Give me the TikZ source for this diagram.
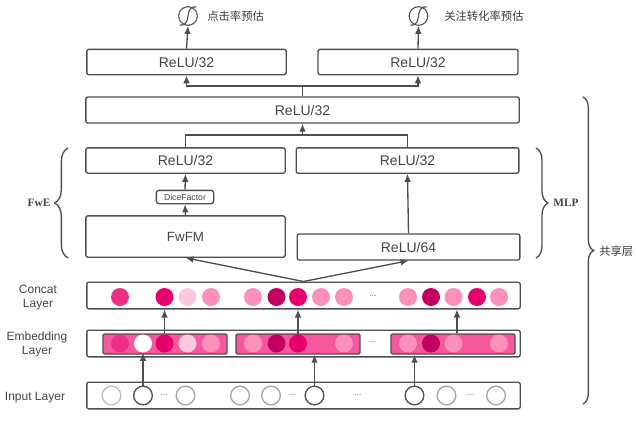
\documentclass[tikz,border=0pt]{standalone}
\usepackage{fontspec}
\setmainfont{Liberation Sans}
\newfontfamily\cjk{Noto Sans CJK SC}
\newfontfamily\serifbf{Liberation Serif}
\usetikzlibrary{decorations.pathreplacing,arrows.meta}
\definecolor{linegray}{HTML}{4F4F4F}
\definecolor{textgray}{HTML}{444444}
\definecolor{bandpink}{HTML}{F6589E}
\definecolor{pinka}{HTML}{EE2F88}
\definecolor{pinkb}{HTML}{E6006E}
\definecolor{pinkc}{HTML}{FBC8DD}
\definecolor{pinkd}{HTML}{FB90BB}
\definecolor{pinke}{HTML}{C20060}
\tikzset{
  layerbox/.style={draw=linegray,line width=1pt,rounded corners=1.5pt,text=textgray,inner sep=0pt,font=\fontsize{10.5}{12}\selectfont},
  bandbox/.style={draw=linegray,line width=1pt,rounded corners=1pt,fill=bandpink,inner sep=0pt,minimum width=93pt,minimum height=15pt},
  dot/.style={circle,inner sep=0pt,minimum size=13.5pt,fill=#1},
  ring/.style={circle,draw=#1,line width=1pt,inner sep=0pt,minimum size=14pt},
  sigma/.style={circle,draw=linegray,line width=.8pt,inner sep=0pt,minimum size=14pt},
  flow/.style={draw=linegray,line width=1pt,-{Latex[length=6pt,width=5pt]}},
  plain/.style={draw=linegray,line width=1pt},
  brace/.style={draw=linegray,line width=1pt,decorate,decoration={brace,amplitude=#1}},
  sidetext/.style={text=textgray,inner sep=0pt,align=center,font=\fontsize{9}{10}\selectfont},
  dotstext/.style={text=textgray,inner sep=0pt,font=\fontsize{6}{6}\selectfont},
}
\newcommand{\sigcurve}[1]{\draw[draw=linegray,line width=.8pt,shift={(#1.center)}] (-8,9) .. controls (-1,10) and (-.5,3) .. (0,0) .. controls (.5,-3) and (1,-10) .. (8,-9);}
\begin{document}
\begin{tikzpicture}[x=0.75pt,y=0.75pt,yscale=-1,xscale=1]
\useasboundingbox (0,0) rectangle (636,422);

% Output circles
\node[sigma] (sigl) at (188,16) {};
\node[sigma] (sigr) at (418.5,16) {};
\sigcurve{sigl}
\sigcurve{sigr}
\node[anchor=west,inner sep=0pt,text=textgray!85!black,font=\cjk\fontsize{8.5}{10}\selectfont] (ctr) at (207,16) {点击率预估};
\node[anchor=west,inner sep=0pt,text=textgray!85!black,font=\cjk\fontsize{8.5}{10}\selectfont] (cvr) at (444,16) {关注转化率预估};

% Boxes
\node[layerbox,minimum width=149.5pt,minimum height=19pt] (relutl) at (186.5,62) {ReLU/32};
\node[layerbox,minimum width=150pt,minimum height=19pt] (relutr) at (418,62) {ReLU/32};
\node[layerbox,minimum width=325pt,minimum height=19.5pt] (relubig) at (302.5,110) {ReLU/32};
\node[layerbox,minimum width=149.5pt,minimum height=19pt] (relul) at (185.5,160.5) {ReLU/32};
\node[layerbox,minimum width=167pt,minimum height=19pt] (relur) at (407.5,160.5) {ReLU/32};
\node[layerbox,rounded corners=2pt,minimum width=43pt,minimum height=10pt,font=\fontsize{6.5}{7}\selectfont] (dice) at (185,197) {DiceFactor};
\node[layerbox,minimum width=149.5pt,minimum height=31pt,font=\fontsize{10}{12}\selectfont] (fwfm) at (185.5,236.5) {FwFM};
\node[layerbox,minimum width=167pt,minimum height=19.5pt] (relufour) at (408.5,247) {ReLU/64};
\node[layerbox,minimum width=325pt,minimum height=20pt] (concat) at (303.5,295.5) {};
\node[layerbox,minimum width=325pt,minimum height=20pt] (embed) at (303.5,343.5) {};
\node[layerbox,minimum width=325pt,minimum height=20pt] (input) at (303.5,395.5) {};

% Embedding bands
\node[bandbox] (banda) at (165,344) {};
\node[bandbox] (bandb) at (298,344) {};
\node[bandbox] (bandc) at (453,344) {};

% Concat and embedding dots
\foreach \name/\xx/\col in {a/120/pinka,b/164.5/pinkb,c/187.5/pinkc,d/211/pinkd,e/253/pinkd,f/276.5/pinke,g/298/pinkb,i/344/pinkd,j/408/pinkd,k/431/pinke,l/453.5/pinkd,n/499/pinkd}{
  \node[dot=\col] (co\name) at (\xx,297) {};
  \node[dot=\col] (em\name) at (\xx,343.5) {};
}
\node[dot=pinkd] (coh) at (321,297) {};
\node[dot=pinkb] (com) at (477,297) {};
\node[dot=white] (emw) at (143,343.5) {};

% Input rings
\foreach \name/\xx/\col in {a/111.5/lightgray,c/185.5/gray!70,d/240/gray!70,e/271/gray!70,i/446.5/gray!70,j/496/gray!70}{
  \node[ring=\col] (in\name) at (\xx,395.5) {};
}
\node[ring=linegray] (inb) at (143,395.5) {};
\node[ring=linegray] (inf) at (314.5,395.5) {};
\node[ring=linegray] (inh) at (414.5,395.5) {};

% Dots in the layers
\foreach \name/\xx/\yy in {a/373/296,b/373/342.5,c/164/395,d/293/395,e/358/395,f/471/395}{
  \node[dotstext] (gap\name) at (\xx,\yy) {...};
}

% Side labels
\node[sidetext] (concatname) at (38,298) {Concat\\[.5pt]Layer};
\node[sidetext] (embedname) at (37,344.5) {Embedding\\[.5pt]Layer};
\node[sidetext] (inputname) at (35,398) {Input Layer};
\node[inner sep=0pt,text=textgray,font=\serifbf\bfseries\fontsize{8.5}{10}\selectfont] (fwe) at (39,203) {FwE};
\node[inner sep=0pt,text=textgray,font=\serifbf\bfseries\fontsize{8.5}{10}\selectfont] (mlp) at (566,203) {MLP};
\node[anchor=west,inner sep=0pt,text=textgray!85!black,font=\cjk\fontsize{8.5}{10}\selectfont] (shared) at (599,251) {共享层};

% Braces
\draw[brace=10pt] (68,258) -- (68,148);
\draw[brace=9pt] (536,148) -- (536,258);
\draw[brace=8pt] (583,97) -- (583,404);

% Connectors
\coordinate (joinb) at (302.5,135);
\coordinate (joint) at (302.5,86);
\coordinate (startc) at (457,344);
\draw[flow] (relutl.north) -- (sigl.south);
\draw[flow] (relutr.north) -- (sigr.south);
\draw[plain] (relubig.north) -- (joint);
\draw[flow] (joint) -| (relutl.south);
\draw[flow] (joint) -| (relutr.south);
\draw[flow] (joinb) -- (relubig.south);
\draw[plain] (relul.north) |- (joinb) -| (relur.north);
\draw[flow] (dice.north) -- (relul.south);
\draw[flow] (fwfm.north) -- (dice.south);
\draw[flow] (relufour.north) -- (relur.south);
\draw[flow] (concat.north) -- (fwfm.south);
\draw[flow] (concat.north) -- (relufour.south);
\draw[flow] (emb.north) -- (emb.north |- concat.south);
\draw[flow] (emg.north) -- (emg.north |- concat.south);
\draw[flow] (startc |- bandc.north) -- (startc |- concat.south);
\draw[flow] (inb.north) -- (emw.south);
\draw[flow] (inf.north) -- (inf.north |- bandb.south);
\draw[flow] (inh.north) -- (inh.north |- bandc.south);

\end{tikzpicture}
\end{document}
